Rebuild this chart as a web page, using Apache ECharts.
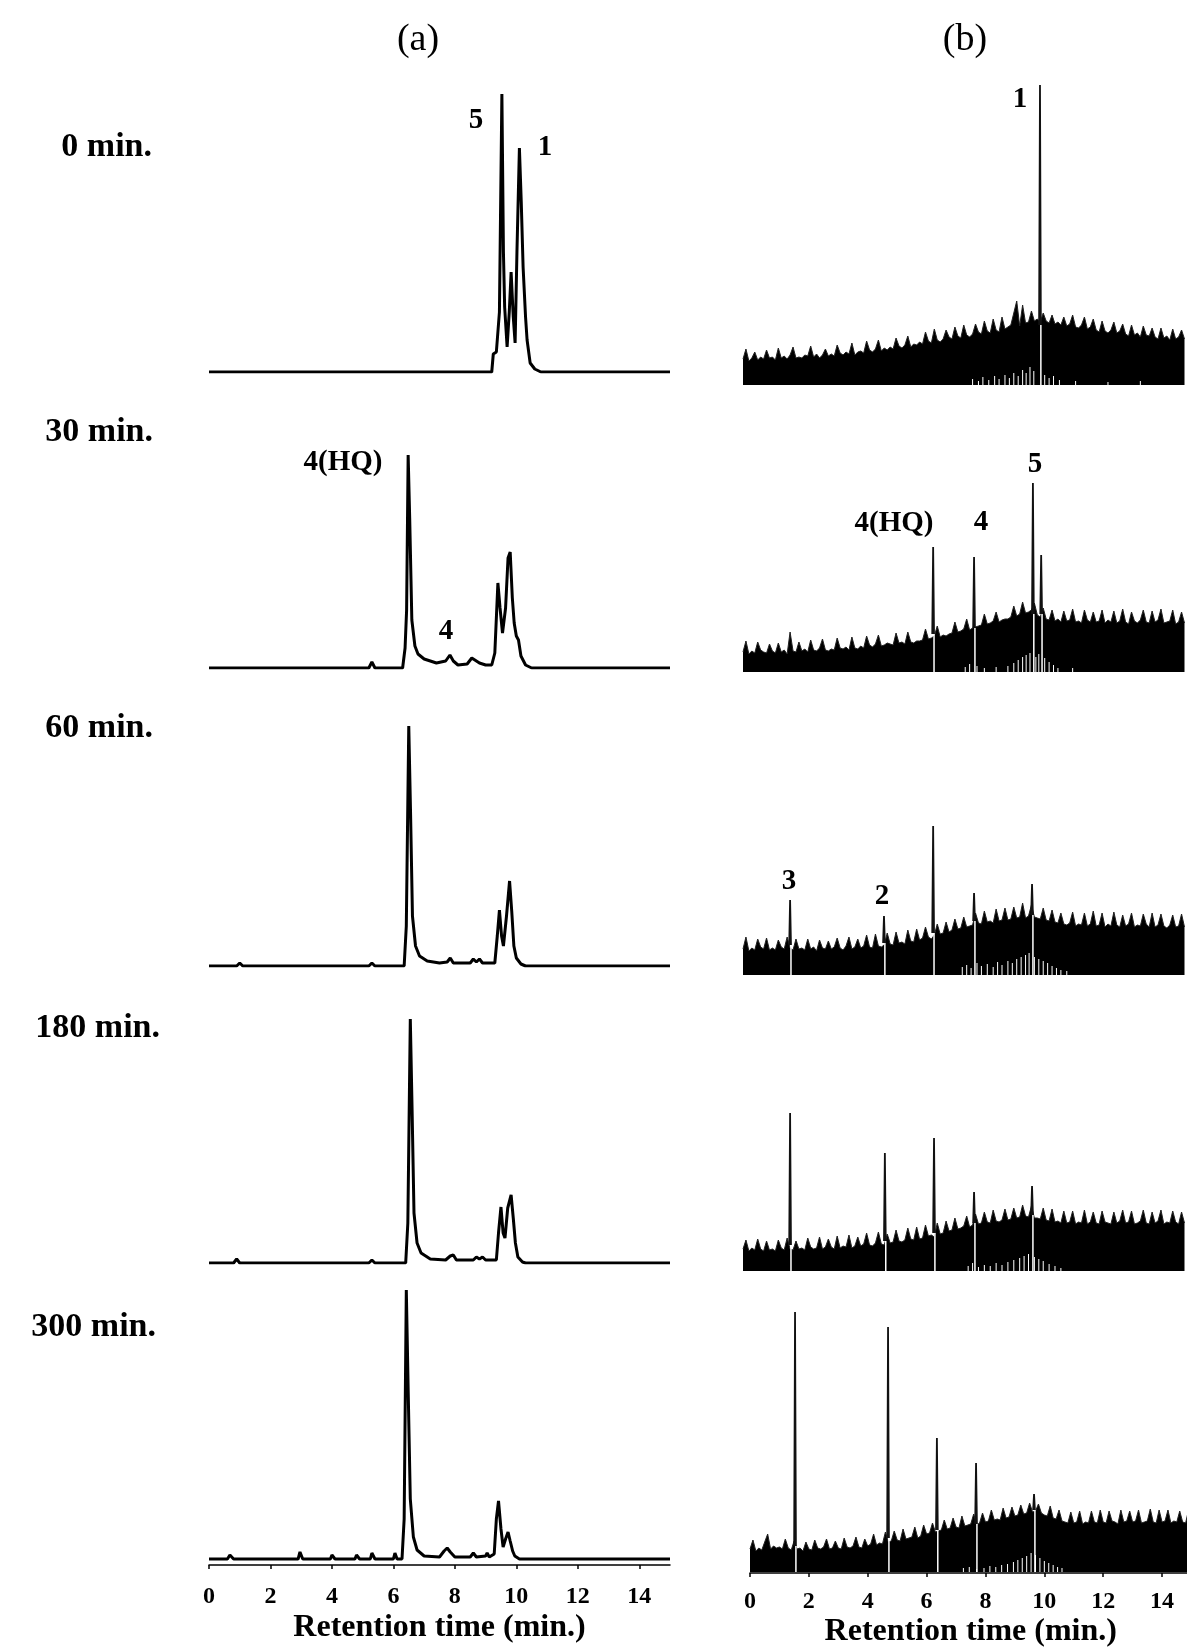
<html>
<head>
<meta charset="utf-8">
<script src="https://cdn.jsdelivr.net/npm/echarts@6/dist/echarts.min.js"></script>
<style>
  html, body { margin: 0; padding: 0; background: #fff; }
  #main { width: 1187px; height: 1650px; }
</style>
</head>
<body>
<div id="main"></div>
<script>
// ---- text ----
var xTicks = [0, 2, 4, 6, 8, 10, 12, 14];
var rowLabels = ['0 min.', '30 min.', '60 min.', '180 min.', '300 min.'];
var panelTitles = ['(a)', '(b)'];
var axisTitle = 'Retention time (min.)';

// ---- (a) chromatograms, [time (min), intensity (a.u.)] ----
var traceA0 = [[0,0],[9.2,0],[9.25,18],[9.35,20],[9.45,60],[9.53,278],[9.58,120],[9.62,65],[9.7,25],[9.77,60],
  [9.83,100],[9.9,55],[9.96,29],[10.02,120],[10.1,224],[10.16,170],[10.22,105],[10.3,55],[10.35,32],[10.45,9],
  [10.6,3],[10.8,0],[15,0]];
var traceA1 = [[0,0],[5.2,0],[5.3,6],[5.4,0],[6.3,0],[6.38,20],[6.43,58],[6.48,213],[6.53,150],[6.6,48],[6.7,22],
  [6.8,14],[7.0,9],[7.4,5],[7.7,7],[7.84,13],[7.95,7],[8.1,3],[8.4,4],[8.55,10],[8.7,7],[8.8,5],[9.0,3],[9.2,3],
  [9.3,15],[9.4,85],[9.47,60],[9.55,35],[9.65,60],[9.73,110],[9.8,116],[9.87,70],[9.93,45],[10.0,32],[10.07,28],
  [10.15,12],[10.3,3],[10.5,0],[15,0]];
var traceA2 = [[0,0],[0.9,0],[1.0,3],[1.1,0],[5.2,0],[5.3,3],[5.4,0],[6.35,0],[6.42,40],[6.5,240],[6.56,150],
  [6.62,50],[6.72,20],[6.85,10],[7.1,5],[7.5,3],[7.75,4],[7.85,8],[7.95,3],[8.5,3],[8.6,7],[8.7,4],[8.8,7],[8.9,3],
  [9.3,3],[9.38,30],[9.45,56],[9.52,30],[9.58,20],[9.68,50],[9.78,85],[9.85,55],[9.92,20],[10.0,8],[10.15,2],
  [10.3,0],[15,0]];
var traceA3 = [[0,0],[0.8,0],[0.9,4],[1.0,0],[5.2,0],[5.3,3],[5.4,0],[6.4,0],[6.47,40],[6.55,244],[6.61,150],
  [6.67,50],[6.77,20],[6.9,10],[7.2,4],[7.7,3],[7.85,7],[7.95,8],[8.05,3],[8.6,3],[8.7,6],[8.8,4],[8.9,6],[9.0,3],
  [9.35,3],[9.42,30],[9.5,56],[9.57,30],[9.63,25],[9.72,55],[9.83,68],[9.9,45],[9.97,20],[10.05,6],[10.2,1],
  [10.3,0],[15,0]];
var traceA4 = [[0,0],[0.6,0],[0.68,4],[0.8,0],[2.9,0],[2.96,7],[3.05,0],[3.95,0],[4.0,4],[4.1,0],[4.75,0],[4.8,4],
  [4.9,0],[5.25,0],[5.3,6],[5.4,0],[6.0,0],[6.05,6],[6.12,0],[6.28,0],[6.35,40],[6.42,269],[6.48,170],[6.55,60],
  [6.65,22],[6.77,9],[7.0,3],[7.5,2],[7.65,8],[7.75,11],[7.85,7],[8.0,2],[8.5,2],[8.6,6],[8.7,2],[9.0,3],[9.05,6],
  [9.12,2],[9.28,5],[9.35,40],[9.42,58],[9.5,30],[9.57,12],[9.65,20],[9.73,27],[9.8,18],[9.88,8],[9.95,3],
  [10.1,0],[15,0]];

// ---- (b) chromatograms: top of the noise band read every 0.1 min ----
var bandTimes = [0,0.1,0.2,0.3,0.4,0.5,0.6,0.7,0.8,0.9,1.0,1.1,1.2,1.3,1.4,1.5,1.6,1.7,1.8,1.9,
  2.0,2.1,2.2,2.3,2.4,2.5,2.6,2.7,2.8,2.9,3.0,3.1,3.2,3.3,3.4,3.5,3.6,3.7,3.8,3.9,
  4.0,4.1,4.2,4.3,4.4,4.5,4.6,4.7,4.8,4.9,5.0,5.1,5.2,5.3,5.4,5.5,5.6,5.7,5.8,5.9,
  6.0,6.1,6.2,6.3,6.4,6.5,6.6,6.7,6.8,6.9,7.0,7.1,7.2,7.3,7.4,7.5,7.6,7.7,7.8,7.9,
  8.0,8.1,8.2,8.3,8.4,8.5,8.6,8.7,8.8,8.9,9.0,9.1,9.2,9.3,9.4,9.5,9.6,9.7,9.8,9.9,
  10.0,10.1,10.2,10.3,10.4,10.5,10.6,10.7,10.8,10.9,11.0,11.1,11.2,11.3,11.4,11.5,11.6,11.7,11.8,11.9,
  12.0,12.1,12.2,12.3,12.4,12.5,12.6,12.7,12.8,12.9,13.0,13.1,13.2,13.3,13.4,13.5,13.6,13.7,13.8,13.9,
  14.0,14.1,14.2,14.3,14.4,14.5,14.6,14.7,14.8,14.9,15.0];
var bandB0 = [26,36,24,27,33,25,28,26,35,27, 28,25,37,27,29,26,30,38,27,28, 27,30,29,39,28,31,27,30,36,29,
  31,29,40,32,30,33,31,42,30,33, 34,32,44,35,33,36,45,34,37,35, 38,36,47,39,37,40,49,38,41,40,
  43,41,53,44,42,56,45,43,46,55, 48,46,58,49,47,60,50,48,51,61, 53,51,64,54,52,66,55,53,68,56,
  58,60,72,84,59,80,62,63,74,64, 66,63,72,64,62,70,61,63,60,68, 59,61,70,58,57,60,68,56,58,66,
  55,53,64,54,52,55,63,52,54,61, 51,49,60,50,52,48,59,50,49,57, 48,46,57,47,49,45,56,46,48,55, 46];
var bandB1 = [20,31,18,21,19,30,22,20,19,28, 21,19,29,20,22,18,40,21,20,30, 21,23,20,32,22,21,24,33,22,21,
  23,22,34,24,23,25,22,35,24,23, 26,24,36,27,25,28,37,26,27,29, 28,27,39,29,30,28,40,30,29,31,
  31,32,43,33,34,36,46,35,37,36, 38,39,50,40,41,43,53,42,44,45, 46,47,58,48,49,51,60,50,52,53,
  53,55,66,56,58,70,59,60,62,69, 57,55,64,53,52,62,51,53,50,61, 51,52,63,50,51,49,62,52,50,60,
  50,51,62,49,52,50,61,49,51,63, 50,48,60,51,49,52,62,50,49,61, 50,52,63,49,50,51,62,48,50,60, 49];
var bandB2 = [26,38,24,27,25,36,28,26,37,25, 27,25,35,28,26,38,27,25,36,26, 27,25,36,26,28,24,35,27,26,34,
  26,28,37,27,25,29,38,26,28,36, 27,29,40,28,27,41,29,28,30,42, 31,30,43,32,33,31,45,34,33,46,
  35,37,48,38,36,40,51,41,42,53, 43,45,56,46,47,58,48,49,50,62, 52,51,64,53,54,52,66,54,55,67,
  55,56,68,57,58,72,57,59,70,58, 57,56,67,55,54,65,53,52,62,51, 50,52,63,49,51,50,62,49,51,64,
  49,50,62,48,51,49,63,50,48,60, 49,51,62,48,50,49,61,51,48,62, 48,50,61,49,47,50,60,48,49,61, 48];
var bandB3 = [22,31,20,23,21,32,22,20,30,21, 22,20,31,23,21,33,22,21,30,22, 23,21,33,24,22,23,34,22,24,32,
  24,22,35,23,25,24,36,23,25,34, 25,27,38,26,25,28,39,27,26,37, 28,29,41,30,29,31,43,32,31,44,
  32,33,46,35,36,34,48,37,38,50, 40,41,53,42,43,45,55,44,46,57, 47,48,59,49,48,61,50,49,51,62,
  51,52,63,53,54,66,55,54,65,53, 53,52,63,51,50,62,49,50,48,60, 48,49,60,47,49,48,61,47,49,59,
  48,47,60,49,48,47,59,48,50,61, 48,49,60,47,48,50,61,48,47,59, 48,50,61,47,49,48,60,49,47,59, 48];
var bandB4 = [23,32,21,24,22,30,38,23,26,24, 25,23,33,24,22,31,23,24,21,30, 23,22,32,24,23,25,33,23,24,31,
  24,23,34,25,24,26,35,25,24,33, 26,28,38,27,29,28,40,30,31,41, 32,31,43,33,34,35,45,34,36,47,
  38,39,49,40,41,42,52,43,44,54, 45,44,56,46,47,48,58,47,49,59, 50,51,62,52,53,52,64,54,55,65,
  56,57,67,58,59,69,60,61,68,59, 57,56,66,54,53,62,51,50,49,60, 49,50,61,48,50,49,61,50,49,62,
  50,49,61,51,50,48,62,50,51,61, 50,51,62,49,50,51,63,50,49,62, 50,51,62,49,51,50,61,50,49,62, 50];

// white streaks at the foot of the band, [time, height]
var holesB0 = [[7.8,6],[8.0,4],[8.15,8],[8.35,5],[8.55,9],[8.7,6],[8.9,10],[9.05,7],[9.2,12],[9.35,9],[9.5,15],
  [9.62,12],[9.75,18],[9.88,14],[10.25,10],[10.4,7],[10.55,9],[10.75,5],[11.3,4],[12.4,3],[13.5,4]];
var holesB1 = [[7.55,5],[7.7,8],[7.95,6],[8.2,4],[8.6,5],[9.0,6],[9.2,9],[9.35,12],[9.5,15],[9.62,17],[9.75,19],
  [9.95,15],[10.05,18],[10.25,14],[10.4,10],[10.55,7],[10.7,4],[11.2,4]];
var holesB2 = [[7.45,8],[7.6,10],[7.75,7],[7.95,12],[8.1,9],[8.3,11],[8.5,8],[8.65,13],[8.8,10],[9.0,14],[9.15,12],
  [9.3,16],[9.45,18],[9.6,20],[9.72,22],[9.9,18],[10.05,16],[10.2,14],[10.35,12],[10.5,9],[10.65,7],[10.8,5],[11.0,4]];
var holesB3 = [[7.65,5],[7.8,8],[8.0,4],[8.2,6],[8.4,5],[8.6,8],[8.8,6],[9.0,9],[9.2,11],[9.4,13],[9.55,15],
  [9.7,17],[9.9,14],[10.05,12],[10.2,10],[10.4,7],[10.6,5],[10.8,3]];
var holesB4 = [[7.25,4],[7.45,5],[7.7,3],[7.95,4],[8.15,6],[8.35,5],[8.55,7],[8.75,8],[8.95,10],[9.1,12],[9.25,14],
  [9.4,16],[9.55,19],[9.7,17],[9.85,14],[10.0,11],[10.15,9],[10.3,7],[10.45,5],[10.6,4]];

// sharp peaks: [time, top, band level at foot]
var spikesB0 = [[10.09,300,60]];
var spikesB1 = [[6.46,125,38],[7.85,115,44],[9.85,189,58],[10.13,117,58]];
var spikesB2 = [[1.60,75,30],[4.79,59,32],[6.46,149,42],[7.85,82,54],[9.82,91,60]];
var spikesB3 = [[1.60,158,26],[4.82,118,30],[6.49,133,38],[7.85,79,48],[9.82,85,56]];
var spikesB4 = [[1.53,260,26],[4.69,245,34],[6.35,134,42],[7.68,109,48],[9.65,78,62]];

// peak labels: [time, height, text]
var annA = [[[8.69,251,'5'],[10.93,224,'1']], [[4.36,205,'4(HQ)'],[7.71,36,'4']], [], [], []];
var annB = [[[9.41,285,'1']], [[5.13,148,'4(HQ)'],[8.09,149,'4'],[9.92,207,'5']],
  [[1.56,93,'3'],[4.72,78,'2']], [], []];

var tracesA = [traceA0, traceA1, traceA2, traceA3, traceA4];
var bandsB = [bandB0, bandB1, bandB2, bandB3, bandB4];
var holesB = [holesB0, holesB1, holesB2, holesB3, holesB4];
var spikesB = [spikesB0, spikesB1, spikesB2, spikesB3, spikesB4];

// ---- layout ----
var serif = "'Liberation Serif', 'Times New Roman', serif";
var H = 310;
var leftBase = [372, 668, 966, 1263, 1565];
var rightBase = [385, 672, 975, 1271, 1573];
var rowLabelPos = [[152, 147], [153, 432], [153, 728], [160, 1028], [156, 1327]];

var grids = [], xAxes = [], yAxes = [], series = [];

function addGrid(left, base, width, yMin, bottomAxis) {
    var idx = grids.length;
    grids.push({left: left, top: base - H, width: width, height: H, outerBoundsMode: 'none'});
    xAxes.push({
        type: 'value', gridIndex: idx, min: 0, max: 15,
        show: !!bottomAxis,
        axisLine: {show: true, onZero: false, lineStyle: {color: '#000', width: 1.5}},
        axisTick: {show: true, length: 4, customValues: xTicks, lineStyle: {color: '#000', width: 1.5}},
        axisLabel: {show: true, customValues: xTicks, margin: bottomAxis ? bottomAxis.margin : 8, color: '#000',
            fontFamily: serif, fontWeight: 'bold', fontSize: 24},
        splitLine: {show: false},
        name: axisTitle, nameLocation: 'middle', nameGap: bottomAxis ? bottomAxis.nameGap : 40,
        nameTextStyle: {color: '#000', fontFamily: serif, fontWeight: 'bold', fontSize: 32}
    });
    yAxes.push({type: 'value', gridIndex: idx, min: yMin, max: yMin + H, show: false});
    return idx;
}

function addLabels(g, list) {
    if (!list.length) return;
    series.push({
        type: 'scatter', xAxisIndex: g, yAxisIndex: g, symbolSize: 0, z: 10,
        itemStyle: {color: '#000', opacity: 1},
        data: list.map(function (a) { return {name: a[2], value: [a[0], a[1]]}; }),
        label: {show: true, position: [0, 0], align: 'center', verticalAlign: 'middle', formatter: '{b}',
            color: '#000', opacity: 1, textBorderWidth: 0,
            fontFamily: serif, fontWeight: 'bold', fontSize: 29}
    });
}

function streaks(list, getX, getLow, getHigh) {
    var out = [];
    list.forEach(function (s) { out.push([getX(s), getLow(s)], [getX(s), getHigh(s)], '-'); });
    return out;
}

for (var i = 0; i < 5; i++) {
    var last = i === 4;
    // (a)
    var ga = addGrid(209, leftBase[i], 461, last ? -6 : 0, last ? {margin: 20, nameGap: 47} : null);
    series.push({
        type: 'line', xAxisIndex: ga, yAxisIndex: ga, data: tracesA[i], symbol: 'none',
        lineStyle: {color: '#000', width: 3}, z: 3
    });
    addLabels(ga, annA[i]);

    // (b)
    var gb = addGrid(last ? 750 : 743, rightBase[i], 441.5, last ? -1 : 0, last ? {margin: 17, nameGap: 43} : null);
    series.push({
        type: 'line', xAxisIndex: gb, yAxisIndex: gb, symbol: 'none', z: 2,
        data: bandTimes.map(function (t, k) { return [t, bandsB[i][k]]; }),
        lineStyle: {color: '#222', width: 1}, areaStyle: {color: '#000', opacity: 1}
    });
    series.push({
        type: 'line', xAxisIndex: gb, yAxisIndex: gb, symbol: 'none', z: 3,
        data: streaks(holesB[i], function (s) { return s[0]; }, function () { return 0; }, function (s) { return s[1]; }),
        lineStyle: {color: '#fff', width: 1}
    });
    series.push({
        type: 'line', xAxisIndex: gb, yAxisIndex: gb, symbol: 'none', z: 4,
        data: streaks(spikesB[i], function (s) { return s[0] + 0.03; }, function () { return 0; }, function (s) { return s[2]; }),
        lineStyle: {color: '#fff', width: 1.5}
    });
    var spk = [];
    spikesB[i].forEach(function (s) {
        spk.push([s[0] - 0.03, s[2]], [s[0], s[1]], [s[0] + 0.03, s[2]], '-');
    });
    series.push({
        type: 'line', xAxisIndex: gb, yAxisIndex: gb, symbol: 'none', z: 5,
        data: spk, lineStyle: {color: '#111', width: 1.8}
    });
    addLabels(gb, annB[i]);
}

var texts = [
    {type: 'text', x: 418, y: 40, style: {text: panelTitles[0], fill: '#000', font: '38px ' + serif, align: 'center', verticalAlign: 'middle'}},
    {type: 'text', x: 965, y: 40, style: {text: panelTitles[1], fill: '#000', font: '38px ' + serif, align: 'center', verticalAlign: 'middle'}}
];
rowLabels.forEach(function (t, k) {
    texts.push({type: 'text', x: rowLabelPos[k][0], y: rowLabelPos[k][1],
        style: {text: t, fill: '#000', font: 'bold 34px ' + serif, align: 'right', verticalAlign: 'middle'}});
});

var option = {
    animation: false,
    backgroundColor: '#fff',
    grid: grids,
    xAxis: xAxes,
    yAxis: yAxes,
    series: series,
    graphic: texts
};

var myChart = echarts.init(document.getElementById('main'));
myChart.setOption(option);
</script>
</body>
</html>
